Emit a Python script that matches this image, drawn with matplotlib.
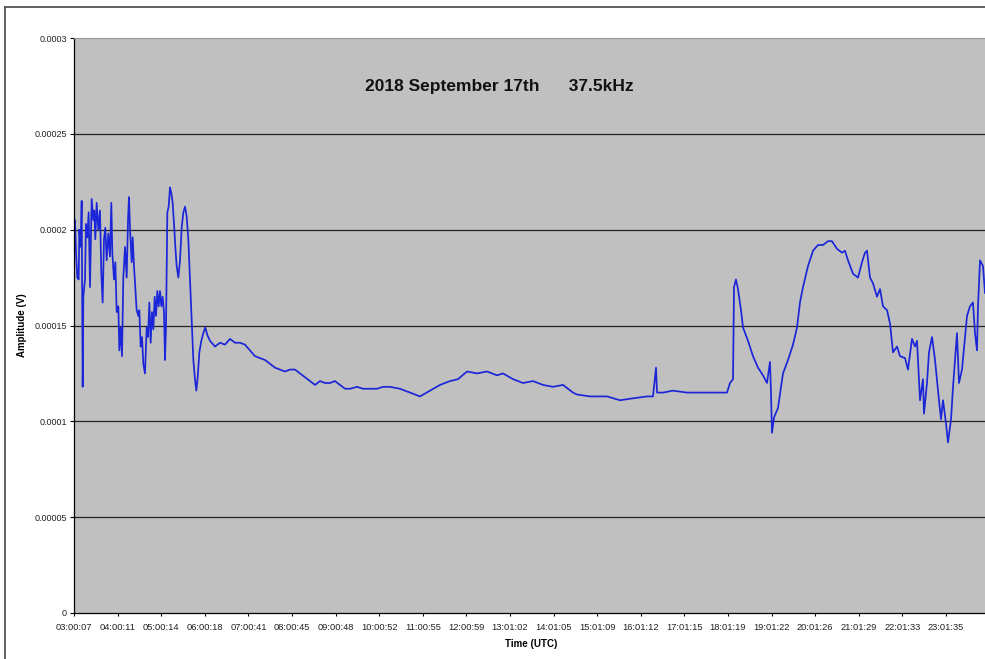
import numpy as np
import matplotlib
matplotlib.use("Agg")
import matplotlib.pyplot as plt
from matplotlib.lines import Line2D

plt.rcParams['font.family'] = ['Liberation Sans', 'DejaVu Sans']

# tick labels of the category axis (one per hour, evenly spaced)
time_labels = ['03:00:07', '04:00:11', '05:00:14', '06:00:18', '07:00:41', '08:00:45',
               '09:00:48', '10:00:52', '11:00:55', '12:00:59', '13:01:02', '14:01:05',
               '15:01:09', '16:01:12', '17:01:15', '18:01:19', '19:01:22', '20:01:26',
               '21:01:29', '22:01:33', '23:01:35']
amp_ticks = [0, 0.00005, 0.0001, 0.00015, 0.0002, 0.00025, 0.0003]
amp_tick_labels = ['0', '0.00005', '0.0001', '0.00015', '0.0002', '0.00025', '0.0003']

# time in hours after 03:00:07, amplitude in units of 1e-4 V
t_morning = [0.0, 0.023, 0.046, 0.076, 0.107, 0.122, 0.153, 0.176, 0.199, 0.214, 0.252,
             0.275, 0.306, 0.336, 0.367, 0.405, 0.443, 0.466, 0.489, 0.520, 0.558,
             0.596, 0.627, 0.657, 0.688, 0.719, 0.749, 0.787, 0.826, 0.856, 0.879,
             0.917, 0.948, 0.979, 1.017, 1.040, 1.071, 1.101, 1.131, 1.170, 1.208,
             1.239, 1.261, 1.284, 1.323, 1.346, 1.376, 1.407, 1.437, 1.476, 1.498,
             1.529, 1.560, 1.590, 1.628, 1.667, 1.697, 1.728, 1.758, 1.789, 1.820,
             1.850, 1.881, 1.911, 1.942, 1.972, 2.003, 2.033, 2.064, 2.087, 2.110,
             2.141, 2.171, 2.202, 2.232, 2.263, 2.294, 2.324, 2.355, 2.393, 2.431,
             2.470, 2.508, 2.546, 2.584, 2.622, 2.661, 2.699, 2.737, 2.775, 2.806,
             2.837, 2.875, 2.920, 2.966, 3.012, 3.058]
a_morning = [1.95, 2.05, 1.88, 1.75, 1.74, 2.00, 1.91, 2.15, 1.18, 1.65, 1.74,
             2.03, 1.96, 2.09, 1.70, 2.16, 2.05, 2.10, 1.95, 2.14, 2.00,
             2.10, 1.77, 1.62, 1.95, 2.01, 1.84, 1.98, 1.86, 2.14, 1.88,
             1.74, 1.83, 1.57, 1.60, 1.37, 1.49, 1.34, 1.75, 1.91, 1.75,
             2.05, 2.17, 2.01, 1.83, 1.96, 1.81, 1.69, 1.58, 1.55, 1.58,
             1.39, 1.44, 1.30, 1.25, 1.49, 1.44, 1.62, 1.41, 1.57, 1.48,
             1.65, 1.55, 1.68, 1.60, 1.68, 1.60, 1.65, 1.57, 1.32, 1.49,
             2.09, 2.12, 2.22, 2.19, 2.14, 2.03, 1.91, 1.81, 1.75, 1.84,
             2.01, 2.09, 2.12, 2.07, 1.95, 1.74, 1.53, 1.32, 1.22, 1.16,
             1.23, 1.36, 1.42, 1.46, 1.49, 1.45]

t_day = [3.119, 3.234, 3.349, 3.463, 3.578, 3.693, 3.807, 3.922, 4.037, 4.151,
         4.266, 4.381, 4.495, 4.610, 4.725, 4.839, 4.954, 5.069, 5.183, 5.298,
         5.413, 5.528, 5.642, 5.757, 5.872, 5.986, 6.101, 6.216, 6.330, 6.491,
         6.628, 6.789, 6.950, 7.087, 7.248, 7.477, 7.706, 7.936, 8.165, 8.394,
         8.624, 8.807, 9.014, 9.243, 9.472, 9.702, 9.839, 10.069, 10.298, 10.528,
         10.757, 10.986, 11.216, 11.445, 11.537, 11.835, 12.225, 12.523, 12.821, 13.142,
         13.280, 13.349, 13.372, 13.509, 13.739, 14.060, 14.358, 14.656, 14.977, 15.046,
         15.115, 15.138, 15.183]
a_day = [1.42, 1.39, 1.41, 1.40, 1.43, 1.41, 1.41, 1.40, 1.37, 1.34,
         1.33, 1.32, 1.30, 1.28, 1.27, 1.26, 1.27, 1.27, 1.25, 1.23,
         1.21, 1.19, 1.21, 1.20, 1.20, 1.21, 1.19, 1.17, 1.17, 1.18,
         1.17, 1.17, 1.17, 1.18, 1.18, 1.17, 1.15, 1.13, 1.16, 1.19,
         1.21, 1.22, 1.26, 1.25, 1.26, 1.24, 1.25, 1.22, 1.20, 1.21,
         1.19, 1.18, 1.19, 1.15, 1.14, 1.13, 1.13, 1.11, 1.12, 1.13,
         1.13, 1.28, 1.15, 1.15, 1.16, 1.15, 1.15, 1.15, 1.15, 1.20,
         1.22, 1.70, 1.74]

t_evening = [15.229, 15.298, 15.344, 15.459, 15.573, 15.688, 15.803, 15.894, 15.963, 15.986,
             16.009, 16.055, 16.147, 16.261, 16.376, 16.491, 16.583, 16.651, 16.720, 16.835,
             16.950, 17.064, 17.179, 17.294, 17.385, 17.500, 17.615, 17.683, 17.752, 17.867,
             17.982, 18.073, 18.142, 18.188, 18.257, 18.326, 18.417, 18.486, 18.555, 18.647,
             18.716, 18.784, 18.876, 18.945, 19.060, 19.128, 19.220, 19.289, 19.335, 19.404,
             19.472, 19.495, 19.564, 19.610, 19.679, 19.748, 19.817, 19.885, 19.931, 20.000,
             20.046, 20.115, 20.161, 20.206, 20.252, 20.298, 20.367, 20.436, 20.482, 20.550,
             20.619, 20.665, 20.711, 20.734, 20.780, 20.849, 20.894]
a_evening = [1.69, 1.58, 1.49, 1.42, 1.34, 1.28, 1.24, 1.20, 1.31, 1.15,
             0.94, 1.02, 1.07, 1.25, 1.32, 1.40, 1.49, 1.62, 1.70, 1.81,
             1.89, 1.92, 1.92, 1.94, 1.94, 1.90, 1.88, 1.89, 1.84, 1.77,
             1.75, 1.83, 1.88, 1.89, 1.75, 1.72, 1.65, 1.69, 1.60, 1.58,
             1.51, 1.36, 1.39, 1.34, 1.33, 1.27, 1.43, 1.39, 1.42, 1.11,
             1.22, 1.04, 1.20, 1.36, 1.44, 1.32, 1.16, 1.01, 1.11, 0.99,
             0.89, 1.01, 1.18, 1.32, 1.46, 1.20, 1.27, 1.44, 1.55, 1.60,
             1.62, 1.46, 1.37, 1.60, 1.84, 1.81, 1.67]

t = np.array(t_morning + t_day + t_evening)
amp = np.array(a_morning + a_day + a_evening) * 1e-4

W, H = 985, 659
fig = plt.figure(figsize=(W / 100, H / 100), dpi=100)
fig.patch.set_facecolor('white')

# plot area runs off the right edge of the picture
ax = fig.add_axes([74 / W, (H - 613) / H, 915.6 / W, 575 / H])
ax.set_facecolor('#c0c0c0')

ax.plot(t, amp, color='#1a26d8', lw=1.25)

ax.set_xlim(0, 21)
ax.set_ylim(0, 0.0003)
ax.set_xticks(range(len(time_labels)))
ax.set_xticklabels(time_labels, fontsize=6.7, color='#222222')
ax.set_yticks(amp_ticks)
ax.set_yticklabels(amp_tick_labels, fontsize=6.5, color='#222222')
ax.tick_params(axis='x', direction='out', length=2.5, width=0.8, pad=4.5)
ax.tick_params(axis='y', direction='out', length=3, width=0.8, pad=2)

for v in amp_ticks[1:-1]:
    ax.axhline(v, color='#222222', lw=0.9, zorder=1)

ax.spines['left'].set_color('black')
ax.spines['bottom'].set_color('black')
ax.spines['left'].set_linewidth(0.9)
ax.spines['bottom'].set_linewidth(0.9)
ax.spines['top'].set_color('#9a9a9a')
ax.spines['top'].set_linewidth(0.8)
ax.spines['right'].set_visible(False)

ax.text(0.465, 0.9165, '2018 September 17th      37.5kHz', transform=ax.transAxes,
        ha='center', va='center', fontsize=12.5, fontweight='bold', color='#111111')

fig.text(531 / W, 1 - 644 / H, 'Time (UTC)', ha='center', va='center',
         fontsize=7, fontweight='bold')
fig.text(22 / W, 1 - 325 / H, 'Amplitude (V)', ha='center', va='center',
         rotation=90, fontsize=7, fontweight='bold')

# outer chart border (left and top visible)
fig.add_artist(Line2D([5 / W, 5 / W], [0, 1 - 7 / H], color='#555555', lw=1.3))
fig.add_artist(Line2D([5 / W, 1], [1 - 7 / H, 1 - 7 / H], color='#555555', lw=1.3))

fig.savefig('out.png', dpi=100, facecolor='white')
